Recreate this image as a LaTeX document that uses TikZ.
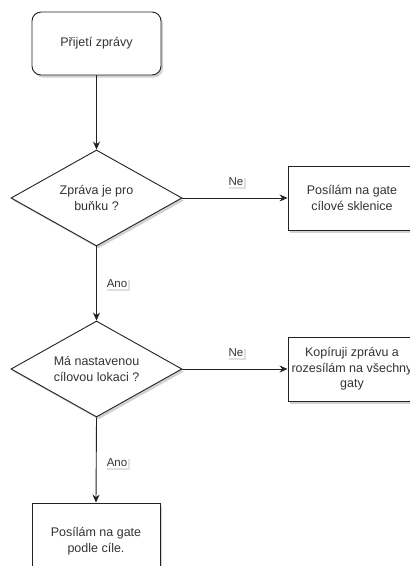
\documentclass[tikz,border=0pt]{standalone}
\usepackage{fontspec}
\setmainfont{Liberation Sans}
\usetikzlibrary{shapes.geometric,arrows.meta,shadows}

\definecolor{ink}{HTML}{222222}
\definecolor{txt}{HTML}{333333}

\tikzset{
  base/.style={draw=ink, line width=0.9pt, fill=white, align=center,
    text=txt, font=\fontsize{12.5}{15.5}\selectfont, inner sep=0pt,
    drop shadow={shadow xshift=2pt, shadow yshift=-2.5pt, opacity=0.18, fill=black}},
  startbox/.style={base, rectangle, rounded corners=9pt,
    minimum width=129pt, minimum height=63pt},
  procbox/.style={base, rectangle, minimum width=128pt, minimum height=64pt},
  decision/.style={base, diamond, aspect=1.78,
    minimum width=171pt, minimum height=96pt},
  flow/.style={draw=ink, line width=0.9pt, -{Stealth[length=8pt,width=7pt]}},
  edgelabel/.style={fill=white, text=txt, inner sep=1pt,
    font=\fontsize{11.5}{13}\selectfont,
    drop shadow={shadow xshift=1.5pt, shadow yshift=-1.5pt, opacity=0.12, fill=black}}
}

\begin{document}
\begin{tikzpicture}[x=1pt, y=-1pt]
  \clip (0,0) rectangle (410,566);
  \fill[white] (0,0) rectangle (410,566);

  \node[startbox] (start) at (96.5,43.5) {Přijetí zprávy};
  \node[decision] (cell) at (96.5,198) {Zpráva je pro\\buňku ?};
  \node[procbox] (glass) at (352,198) {Posílám na gate\\cílové sklenice};
  \node[decision] (target) at (96.5,369) {Má nastavenou\\cílovou lokaci ?};
  \node[procbox] (copy) at (352,369) {Kopíruji zprávu a\\rozesílám na všechny\\gaty};
  \node[procbox, minimum height=76pt] (route) at (96,541) {Posílám na gate\\podle cíle.};

  \draw[flow] (start.south) -- (cell.north);
  \draw[flow] (cell.east) -- (glass.west);
  \draw[flow] (cell.south) -- (target.north);
  \draw[flow] (target.east) -- (copy.west);
  \draw[flow] (target.south) -- (route.north);

  \node[edgelabel] (ne1) at (236,182) {Ne};
  \node[edgelabel] (ano1) at (117,284) {Ano};
  \node[edgelabel] (ne2) at (236,353) {Ne};
  \node[edgelabel] (ano2) at (117,463) {Ano};
\end{tikzpicture}
\end{document}
